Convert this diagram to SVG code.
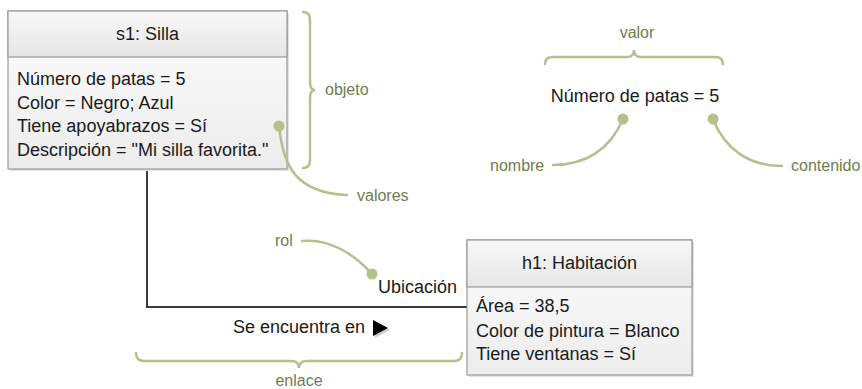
<svg xmlns="http://www.w3.org/2000/svg" width="862" height="389" viewBox="0 0 862 389">
  <defs>
    <linearGradient id="hdr" x1="0" y1="0" x2="0" y2="1">
      <stop offset="0" stop-color="#f8f8f8"/>
      <stop offset="1" stop-color="#e6e6e6"/>
    </linearGradient>
    <linearGradient id="body" x1="0" y1="0" x2="0" y2="1">
      <stop offset="0" stop-color="#fdfdfd"/>
      <stop offset="1" stop-color="#ececec"/>
    </linearGradient>
  </defs>
  <style>
    .box { stroke: #9a9a9a; stroke-width: 1.2; }
    .shadow { fill: #e2e2e2; }
    .t { font-family: "Liberation Sans", Arial, sans-serif; font-size: 18px; fill: #1a1a1a; }
    .g { font-family: "Liberation Sans", Arial, sans-serif; font-size: 16px; fill: #6f7d50; }
    .ann { fill: none; stroke: #b3c28b; stroke-width: 2.5; stroke-linecap: round; }
    .dot { fill: #b3c28b; }
    .link { fill: none; stroke: #3a3a3a; stroke-width: 2; }
  </style>

  <g id="connectors">
    <path class="link" d="M147,169 L147,307 L467,307"/>
    <path d="M375,322 L390,330 L375,338 Z" fill="#d0d0d0"/>
    <path d="M373,320 L388,328 L373,336 Z" fill="#000"/>
    <text class="t" x="233" y="333">Se encuentra en</text>
    <text class="t" x="378" y="293">Ubicación</text>
  </g>

  <g id="s1">
    <rect class="shadow" x="10" y="13" width="279" height="158"/>
    <rect class="box" x="8" y="11" width="279" height="158" fill="url(#body)"/>
    <rect class="box" x="8" y="11" width="279" height="46" fill="url(#hdr)"/>
    <text class="t" x="147.5" y="40" text-anchor="middle">s1: Silla</text>
    <text class="t" x="17" y="85">Número de patas = 5</text>
    <text class="t" x="17" y="108.5">Color = Negro; Azul</text>
    <text class="t" x="17" y="132">Tiene apoyabrazos = Sí</text>
    <text class="t" x="17" y="156">Descripción = "Mi silla favorita."</text>
  </g>

  <g id="h1">
    <rect class="shadow" x="469" y="242" width="225" height="135"/>
    <rect class="box" x="467" y="240" width="225" height="135" fill="url(#body)"/>
    <rect class="box" x="467" y="240" width="225" height="47" fill="url(#hdr)"/>
    <text class="t" x="579.5" y="269" text-anchor="middle">h1: Habitación</text>
    <text class="t" x="476" y="312">Área = 38,5</text>
    <text class="t" x="476" y="337">Color de pintura = Blanco</text>
    <text class="t" x="476" y="360">Tiene ventanas = Sí</text>
  </g>

  <g id="valor-example">
    <text class="t" x="635" y="102" text-anchor="middle">Número de patas = 5</text>
  </g>

  <g id="annotations">
    <path class="ann" d="M303,12 Q310,12 310,20 L310,82 Q310,90 315,90 Q310,90 310,98 L310,160 Q310,168 303,168"/>
    <text class="g" x="325" y="95">objeto</text>

    <circle class="dot" cx="279" cy="126" r="5.5"/>
    <path class="ann" d="M279,126 C283,165 295,193 347,195"/>
    <text class="g" x="357" y="201">valores</text>

    <path class="ann" d="M545,64 Q545,57 553,57 L627,57 Q634,57 634,50 Q634,57 641,57 L715,57 Q723,57 723,64"/>
    <text class="g" x="637" y="38" text-anchor="middle">valor</text>

    <circle class="dot" cx="623" cy="119" r="5.5"/>
    <path class="ann" d="M623,119 C610,150 585,165 553,165"/>
    <text class="g" x="490" y="171">nombre</text>

    <circle class="dot" cx="713" cy="119" r="5.5"/>
    <path class="ann" d="M713,119 C725,150 750,166 782,166"/>
    <text class="g" x="791" y="171">contenido</text>

    <circle class="dot" cx="372" cy="274" r="5.5"/>
    <path class="ann" d="M302,241 C330,238 355,255 372,274"/>
    <text class="g" x="275" y="246">rol</text>

    <path class="ann" d="M136,353 Q136,361 144,361 L291,361 Q299,361 299,368 Q299,361 307,361 L454,361 Q462,361 462,353"/>
    <text class="g" x="299" y="386" text-anchor="middle">enlace</text>
  </g>
</svg>
